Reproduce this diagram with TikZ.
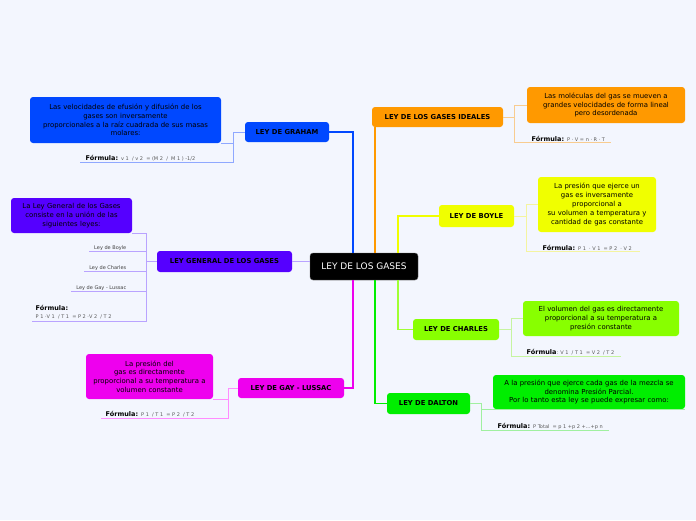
\documentclass[tikz,border=0pt]{standalone}
\usepackage{fontspec}
\setmainfont{DejaVu Sans}
\usetikzlibrary{positioning}
\definecolor{bgcol}{HTML}{F3F6FE}
\definecolor{grahamc}{HTML}{0048FF}
\definecolor{grahaml}{HTML}{8FA8FF}
\definecolor{generalc}{HTML}{5500FF}
\definecolor{generall}{HTML}{B9A3FF}
\definecolor{gayc}{HTML}{EE00EE}
\definecolor{gayl}{HTML}{FF8CFF}
\definecolor{idealc}{HTML}{FF9900}
\definecolor{ideall}{HTML}{F8CC90}
\definecolor{boylec}{HTML}{F0FF00}
\definecolor{boylel}{HTML}{F4F4A0}
\definecolor{charlesc}{HTML}{88FF00}
\definecolor{charlesl}{HTML}{C6F4A0}
\definecolor{daltonc}{HTML}{00EE00}
\definecolor{daltonl}{HTML}{A0F0A0}
\newcommand{\formtxt}{\mdseries\fontsize{5}{6}\selectfont\color{black!65}}
\tikzset{
  rootbox/.style={rectangle,rounded corners=3pt,fill=black,draw=black!60,text=white,inner sep=0pt,font=\fontsize{9}{10}\selectfont},
  lawbox/.style={rectangle,rounded corners=3pt,inner sep=0pt,font=\bfseries\fontsize{6.8}{8}\selectfont},
  textbox/.style={rectangle,rounded corners=3pt,inner sep=0pt,align=center,font=\fontsize{6.9}{8.8}\selectfont},
  formula/.style={inner sep=1.5pt,font=\bfseries\fontsize{6.5}{7}\selectfont},
  lawitem/.style={inner sep=1.5pt,font=\fontsize{5}{6}\selectfont,text=black!75},
  trunk/.style={line width=1.1pt,draw=#1},
  twig/.style={line width=0.8pt,draw=#1}
}
\begin{document}
\begin{tikzpicture}[x=1pt,y=-1pt]
  \fill[bgcol] (0,0) rectangle (696,520);
  \useasboundingbox (0,0) rectangle (696,520);

  % centro
  \node[rootbox,minimum width=108,minimum height=27] (root) at (364,266.5) {LEY DE LOS GASES};

  % leyes
  \node[lawbox,fill=grahamc,minimum width=84,minimum height=20] (graham) at (287,132) {LEY DE GRAHAM};
  \node[lawbox,fill=generalc,minimum width=135,minimum height=21] (general) at (224.5,261.5) {LEY GENERAL DE LOS GASES};
  \node[lawbox,fill=gayc,minimum width=106,minimum height=20] (gay) at (291,388) {LEY DE GAY - LUSSAC};
  \node[lawbox,fill=idealc,minimum width=131,minimum height=20] (ideal) at (437.5,117) {LEY DE LOS GASES IDEALES};
  \node[lawbox,fill=boylec,minimum width=75,minimum height=22] (boyle) at (476.5,216) {LEY DE BOYLE};
  \node[lawbox,fill=charlesc,minimum width=86,minimum height=21] (charles) at (456,329.5) {LEY DE CHARLES};
  \node[lawbox,fill=daltonc,minimum width=83,minimum height=21] (dalton) at (428.5,403.5) {LEY DE DALTON};

  \draw[trunk=grahamc] ([xshift=-11pt]root.north) |- (graham.east);
  \draw[trunk=generall] (root.west |- general.east) -- (general.east);
  \draw[trunk=gayc] ([xshift=-11pt]root.south) |- (gay.east);
  \draw[trunk=idealc] ([xshift=11pt]root.north) -- ([xshift=11pt]root.north |- ideal.south);
  \draw[trunk=boylec] ([xshift=34pt]root.north) |- (boyle.west);
  \draw[trunk=charlesc!80!white] ([xshift=34pt]root.south) |- (charles.west);
  \draw[trunk=daltonc] ([xshift=11pt]root.south) |- (dalton.west);

  % Graham
  \node[textbox,fill=grahamc,minimum width=191,minimum height=46,text width=188] (grahamtxt) at (125.5,120)
    {Las velocidades de efusión y difusión de los\\gases son inversamente\\proporcionales a la raíz cuadrada de sus masas\\molares:};
  \node[formula,anchor=base west] (grahamform) at (84,160) {Fórmula: {\formtxt v 1~ / v 2~ = (M 2~ /~ M 1 ) -1/2}};
  \coordinate (grahamfk) at (233,132);
  \draw[twig=grahaml] (graham.west) -- (grahamfk) |- ([xshift=-4pt]grahamform.south west);
  \draw[twig=grahaml] (grahamtxt.south east) -- (grahamfk |- grahamtxt.south);

  % General
  \node[textbox,fill=generalc,minimum width=121,minimum height=35,text width=119] (generaltxt) at (71.5,215.5)
    {La Ley General de los Gases\\consiste en la unión de las\\siguientes leyes:};
  \node[lawitem,anchor=base east] (boyleitem) at (128,249) {Ley de Boyle};
  \node[lawitem,anchor=base east] (charlesitem) at (128,269) {Ley de Charles};
  \node[lawitem,anchor=base east] (gayitem) at (128,289) {Ley de Gay - Lussac};
  \node[formula,anchor=north west,align=left] (generalform) at (34,304)
    {Fórmula:\\[1pt]{\formtxt P 1 ·V 1~ / T 1~ = P 2 ·V 2~ / T 2}};
  \coordinate (generalfk) at (146,261.5);
  \draw[twig=generall] (general.west) -- (generalfk);
  \draw[twig=generall] (generaltxt.south east) -- (generalfk |- generaltxt.south) |- ([xshift=-2pt]generalform.south west);
  \draw[twig=generall] (generalfk) |- ([xshift=-4pt]boyleitem.south west);
  \draw[twig=generall] (generalfk) |- ([xshift=-4pt]charlesitem.south west);
  \draw[twig=generall] (generalfk) |- ([xshift=-4pt]gayitem.south west);

  % Gay-Lussac
  \node[textbox,fill=gayc,minimum width=127,minimum height=45,text width=125] (gaytxt) at (149.5,376.5)
    {La presión del\\gas es directamente\\proporcional a su temperatura a\\volumen constante};
  \node[formula,anchor=base west] (gayform) at (104,416) {Fórmula: {\formtxt P 1~ / T 1~ = P 2~ / T 2}};
  \coordinate (gayfk) at (228,388);
  \draw[twig=gayl] (gay.west) -- (gayfk) |- ([xshift=-3pt]gayform.south west);
  \draw[twig=gayl] (gaytxt.south east) -- (gayfk |- gaytxt.south);

  % Gases ideales
  \node[textbox,fill=idealc,minimum width=158,minimum height=36,text width=156] (idealtxt) at (606,105)
    {Las moléculas del gas se mueven a\\grandes velocidades de forma lineal\\pero desordenada};
  \node[formula,anchor=base west] (idealform) at (530,141) {Fórmula: {\formtxt P · V = n · R · T}};
  \coordinate (idealfk) at (514,117);
  \draw[twig=ideall] (ideal.east) -- (idealfk) |- (idealtxt.west);
  \draw[twig=ideall] (idealfk) |- ([xshift=4pt]idealform.south east);

  % Boyle
  \node[textbox,fill=boylec,minimum width=118,minimum height=55,text width=116] (boyletxt) at (597,204.5)
    {La presión que ejerce un\\gas es inversamente\\proporcional a\\su volumen a temperatura y\\cantidad de gas constante};
  \node[formula,anchor=base west] (boyleform) at (541,250) {Fórmula: {\formtxt P 1~ · V 1~ = P 2~ · V 2}};
  \coordinate (boylefk) at (526,216);
  \draw[twig=boylel] (boyle.east) -- (boylefk) |- (boyletxt.west);
  \draw[twig=boylel] (boylefk) |- ([xshift=6pt]boyleform.south east);

  % Charles
  \node[textbox,fill=charlesc,minimum width=156,minimum height=35,text width=154] (charlestxt) at (601,318.5)
    {El volumen del gas es directamente\\proporcional a su temperatura a\\presión constante};
  \node[formula,anchor=base west] (charlesform) at (525,354) {Fórmula{\formtxt : V 1~ / T 1~ = V 2~ / T 2}};
  \coordinate (charlesfk) at (511,329.5);
  \draw[twig=charlesl] (charles.east) -- (charlesfk) |- (charlestxt.west);
  \draw[twig=charlesl] (charlesfk) |- ([xshift=5pt]charlesform.south east);

  % Dalton
  \node[textbox,fill=daltonc,minimum width=192,minimum height=34,text width=190] (daltontxt) at (589,392)
    {A la presión que ejerce cada gas de la mezcla se\\denomina Presión Parcial.\\Por lo tanto esta ley se puede expresar como:};
  \node[formula,anchor=base west] (daltonform) at (496,428) {Fórmula: {\formtxt P Total~ = p 1 +p 2 +...+p n}};
  \coordinate (daltonfk) at (481,403.5);
  \draw[twig=daltonl] (dalton.east) -- (daltonfk) |- ([xshift=5pt]daltonform.south east);
  \draw[twig=daltonl] (daltonfk) |- (daltontxt.south east);
\end{tikzpicture}
\end{document}
